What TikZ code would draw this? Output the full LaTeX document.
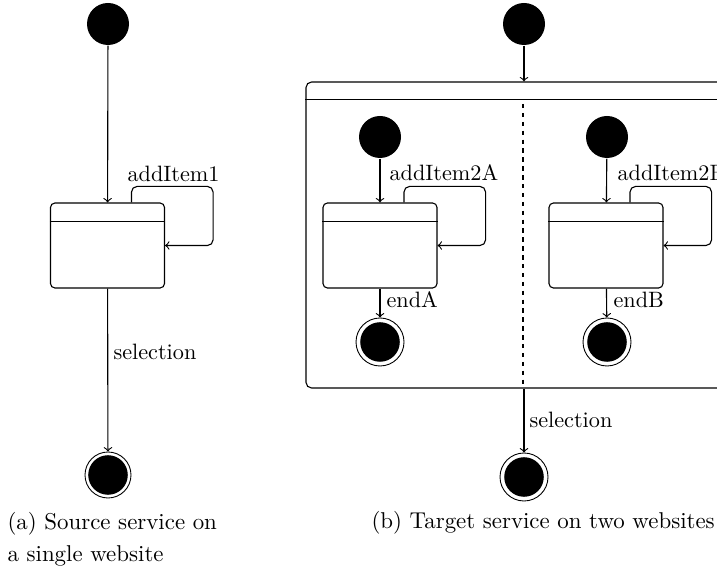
\documentclass[tikz,border=0pt]{standalone}
\usetikzlibrary{calc}
\begin{document}
\begin{tikzpicture}[x=0.45pt,y=-0.45pt,
  line width=0.5pt,
  >=to,
  initst/.style={circle, fill=black, minimum size=18.9pt, inner sep=0pt},
  finst/.style={circle, draw, line width=0.4pt, inner sep=0pt, minimum size=#1,
    path picture={\fill[black] (path picture bounding box.center) circle (8.9pt);}},
  finst/.default=21.6pt,
  statebox/.style={rectangle, draw, rounded corners=2pt, minimum width=51.3pt,
    minimum height=38.25pt, inner sep=0pt},
  lbl/.style={inner sep=0pt, anchor=base west, font=\normalsize},
  captxt/.style={inner sep=0pt, font=\fontsize{10.3}{14.5}\selectfont},
  trans/.style={->},
  selfloop/.style={->, rounded corners=2.5pt}]
\clip (0,0) rectangle (717,579);

% ---------- (a) single website ----------
\node[initst] (i1) at (108,24) {};
\node[statebox] (s1) at (107.5,245.5) {};
\draw ($(s1.north west)+(0,19)$) -- ($(s1.north east)+(0,19)$);
\node[finst=20.7pt] (f1) at (108,475) {};
\draw[trans] (i1) -- (s1);
\draw[selfloop] ([xshift=10.8pt]s1.north) -- ++(0,-16) -| ([xshift=21.6pt]s1.east) -- (s1.east);
\node[lbl] (l1) at (127,182) {addItem1};
\draw[trans] (s1) -- (f1);
\node[lbl] (l2) at (113,360) {selection};
\node[captxt, anchor=north west, align=left] (capa) at (7,512)
  {(a) Source service on\\ a single website};

% ---------- (b) two websites ----------
\node[initst] (i2) at (524,24) {};
\node[rectangle, draw, rounded corners=2.5pt, minimum width=204.3pt, minimum height=137.7pt,
  inner sep=0pt] (c) at (533,235) {};
\draw ($(c.north west)+(0,18)$) -- ($(c.north east)+(0,18)$);
\draw[dash pattern=on 2pt off 2pt] (523,104) -- (523,388);
\draw[trans] (i2) -- (i2 |- c.north);

% region A
\node[initst] (ia) at (380,137) {};
\node[statebox] (sa) at (380,245.5) {};
\draw ($(sa.north west)+(0,19)$) -- ($(sa.north east)+(0,19)$);
\node[finst] (fa) at (380,342) {};
\draw[trans] (ia) -- (sa);
\draw[selfloop] ([xshift=10.8pt]sa.north) -- ++(0,-16) -| ([xshift=21.6pt]sa.east) -- (sa.east);
\node[lbl] (la) at (389,181) {addItem2A};
\draw[trans] (sa) -- (fa);
\node[lbl] (ea) at (386,308) {endA};

% region B
\node[initst] (ib) at (607,137) {};
\node[statebox] (sb) at (606,245.5) {};
\draw ($(sb.north west)+(0,19)$) -- ($(sb.north east)+(0,19)$);
\node[finst] (fb) at (607,342) {};
\draw[trans] (ib) -- (sb);
\draw[selfloop] ([xshift=10.8pt]sb.north) -- ++(0,-16) -| ([xshift=21.6pt]sb.east) -- (sb.east);
\node[lbl] (lb) at (617,181) {addItem2B};
\draw[trans] (sb) -- (fb);
\node[lbl] (eb) at (613,308) {endB};

% leaving the composite state
\node[finst] (f2) at (524,477) {};
\draw[trans] (c.south -| f2) -- (f2);
\node[lbl] (l3) at (529,428) {selection};
\node[captxt, anchor=base west] (capb) at (371,529) {(b) Target service on two websites};
\end{tikzpicture}
\end{document}
